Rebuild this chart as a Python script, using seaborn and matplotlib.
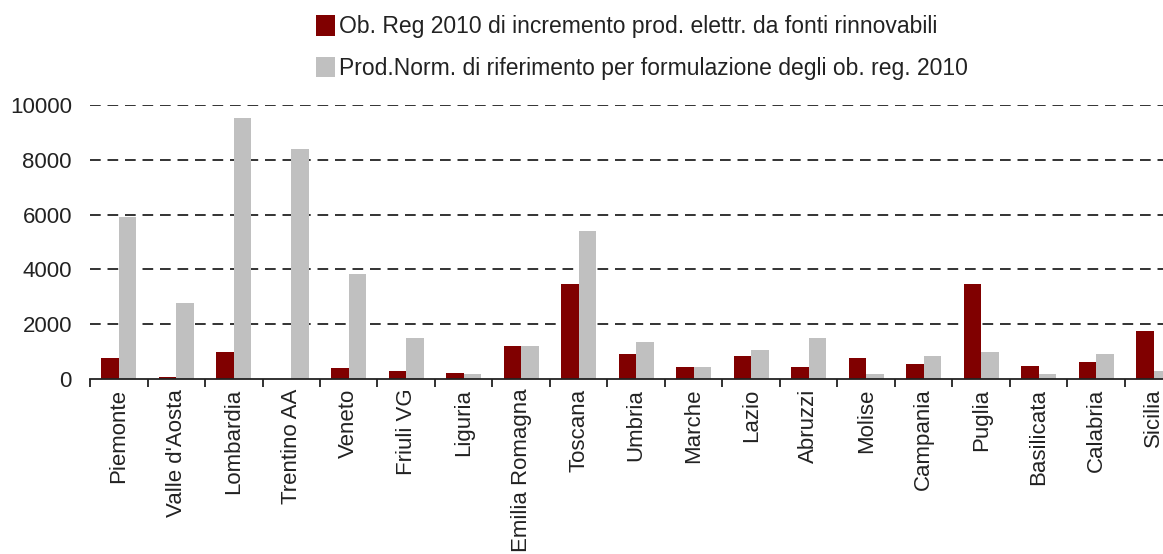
import matplotlib
matplotlib.use("Agg")
import matplotlib.pyplot as plt
import seaborn as sns
import pandas as pd
from matplotlib.patches import Patch

regions = ["Piemonte", "Valle d'Aosta", "Lombardia", "Trentino AA", "Veneto",
           "Friuli VG", "Liguria", "Emilia Romagna", "Toscana", "Umbria",
           "Marche", "Lazio", "Abruzzi", "Molise", "Campania", "Puglia",
           "Basilicata", "Calabria", "Sicilia"]

obiettivo_2010 = [780, 70, 980, 0, 410, 280, 220, 1200, 3480, 920,
                  420, 850, 420, 780, 560, 3480, 480, 630, 1770]

produzione_norm = [5900, 2780, 9520, 8400, 3850, 1480, 190, 1200, 5400, 1350,
                   420, 1070, 1480, 200, 850, 980, 200, 920, 280]

series_names = ["Ob. Reg 2010 di incremento prod. elettr. da fonti rinnovabili",
                "Prod.Norm. di riferimento per formulazione degli ob. reg. 2010"]
series_colors = ["#800000", "#C0C0C0"]

yticks = [0, 2000, 4000, 6000, 8000, 10000]

df = pd.DataFrame({
    "regione": regions * 2,
    "valore": obiettivo_2010 + produzione_norm,
    "serie": [series_names[0]] * len(regions) + [series_names[1]] * len(regions),
})

sns.set_theme(style="white")
plt.rcParams["font.family"] = ["Liberation Sans", "DejaVu Sans"]

fig = plt.figure(figsize=(11.63, 5.54), dpi=100)
ax = fig.add_axes([90 / 1163, 1 - 379 / 554, 1092.5 / 1163, 274 / 554])

sns.barplot(data=df, x="regione", y="valore", hue="serie",
            order=regions, hue_order=series_names,
            palette=dict(zip(series_names, series_colors)),
            width=0.61, saturation=1, errorbar=None, ax=ax,
            edgecolor="none", linewidth=0, legend=False)

ax.set_xlim(-0.5, len(regions) - 0.5)
ax.set_ylim(0, 10000)
ax.set_yticks(yticks)
ax.set_yticklabels([str(v) for v in yticks], fontsize=16, color="#222222")
ax.set_xlabel("")
ax.set_ylabel("")

# category labels centred, tick marks on the boundaries between categories
ax.set_xticks(range(len(regions)))
ax.set_xticklabels(regions, rotation=90, fontsize=16, color="#222222",
                   va="top", ha="center")
ax.set_xticks([i - 0.5 for i in range(len(regions) + 1)], minor=True)
ax.tick_params(axis="x", which="major", length=0, pad=7)
ax.tick_params(axis="x", which="minor", length=6, width=1.3, color="#222222",
               direction="out", bottom=True)
ax.tick_params(axis="y", length=0, pad=13)

for side in ["left", "right", "top"]:
    ax.spines[side].set_visible(False)
ax.spines["bottom"].set_color("#222222")
ax.spines["bottom"].set_linewidth(1.3)

ax.set_axisbelow(True)
ax.yaxis.grid(True, color="#333333", linewidth=1.4, linestyle=(0, (5.5, 3.5)))
ax.xaxis.grid(False)
ax.get_ygridlines()[0].set_visible(False)

handles = [Patch(facecolor=c, edgecolor="none") for c in series_colors]
fig.legend(handles, series_names, loc="upper left",
           bbox_to_anchor=(316 / 1163, 1 - 15 / 554), frameon=False,
           fontsize=16.5, handlelength=0.85, handleheight=1.0,
           handletextpad=0.17, labelspacing=0.82, borderpad=0,
           borderaxespad=0, labelcolor="#222222")

fig.savefig("out.png", dpi=100)
